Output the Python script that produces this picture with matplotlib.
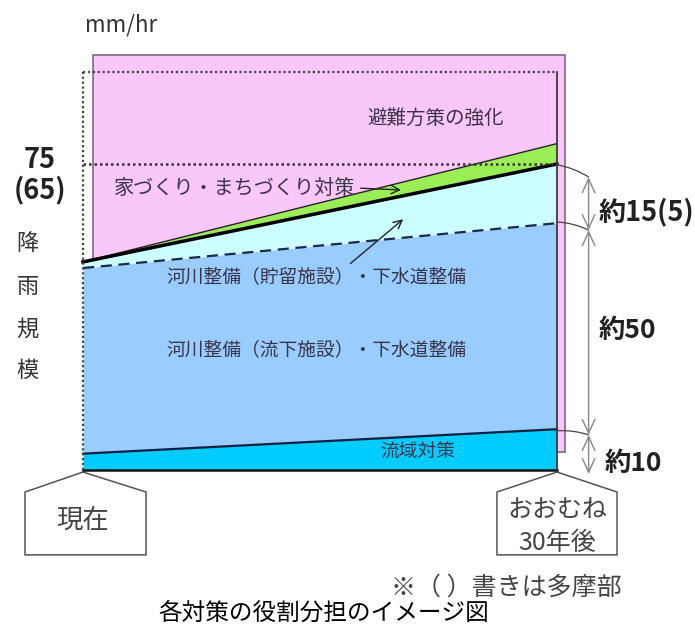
import numpy as np
import matplotlib
matplotlib.use("Agg")
from matplotlib import pyplot as plt
from matplotlib.patches import Rectangle, Polygon

plt.rcParams['font.family'] = ['Noto Sans CJK JP', 'DejaVu Sans']

# x: years from now (0 = 現在, 30 = おおむね30年後), y: rainfall scale (mm/hr)
years = [0, 30]
basin_top = [4, 10]          # 流域対策
flow_top = [49.5, 60.5]      # 河川整備（流下施設）・下水道整備 (dashed line)
storage_top = [51, 75]       # 河川整備（貯留施設）・下水道整備 (solid line)
town_top = [51, 80]          # 家づくり・まちづくり対策
frame_top = 97.5             # top of drawing (dotted)
target = 75                  # 75 (65)
dim_levels = [-1.0, 8.6, 58.8, 71.8]
dim_labels = ["約10", "約50", "約15(5)"]

c_pink = "#FAC8F8"
c_basin = "#00CCFF"
c_flow = "#99CCFF"
c_store = "#CCFFFF"
c_town = "#99EE55"
c_txt = "#3A3448"

fig = plt.figure(figsize=(6.95, 6.27), dpi=100)
ax = fig.add_axes([0, 0, 1, 1])
# 15.8 px per year, 4.08 px per mm/hr, origin at pixel (83, 470)
ax.set_xlim(-83 / 15.8, (695 - 83) / 15.8)
ax.set_ylim(-(627 - 470) / 4.08, 470 / 4.08)
ax.axis("off")

# pink background box (避難方策の強化)
ax.add_patch(Rectangle((0.63, 4.4), 29.87, 97.3, facecolor=c_pink,
                       edgecolor="#7A6A80", lw=1.2, zorder=1))

x = np.array(years)
ax.fill_between(x, 0, basin_top, color=c_basin, lw=0, zorder=2)
ax.fill_between(x, basin_top, flow_top, color=c_flow, lw=0, zorder=2)
ax.fill_between(x, flow_top, storage_top, color=c_store, lw=0, zorder=2)
ax.fill_between(x, storage_top, town_top, color=c_town, lw=0, zorder=2)

ax.plot(x, town_top, color="#222222", lw=1.0, zorder=3)
ax.plot(x, storage_top, color="black", lw=2.5, zorder=3)
ax.plot(x, flow_top, color="#1A2A4A", lw=1.6, ls=(0, (5, 3)), zorder=3)
ax.plot(x, basin_top, color="#102040", lw=1.6, zorder=3)
ax.plot(x, [0, 0], color="#111111", lw=1.8, zorder=3)

# frame: dotted left / top / 75 lines, solid right edge
dot = (0, (1, 1.2))
ax.plot([0, 0], [0, frame_top], color="#444444", lw=1.6, ls=dot, zorder=3)
ax.plot([0, 30], [frame_top, frame_top], color="#444444", lw=1.6, ls=dot, zorder=3)
ax.plot([0, 30], [target, target], color="#333333", lw=1.8, ls=dot, zorder=3)
ax.plot([30, 30], [0, frame_top], color="#3A3A3A", lw=1.3, zorder=3)

# region labels
ax.text(22.3, 86.3, "避難方策の強化", fontsize=14, color=c_txt, ha="center", va="center", zorder=4)
ax.text(9.6, 69.1, "家づくり・まちづくり対策", fontsize=14.5, color=c_txt, ha="center", va="center", zorder=4)
ax.annotate("", xy=(20.3, 68.6), xytext=(17.4, 69.1),
            arrowprops=dict(arrowstyle="->,head_length=0.6,head_width=0.3", color="#222222", lw=1.0), zorder=4)
ax.text(14.8, 47.3, "河川整備（貯留施設）・下水道整備", fontsize=13.5, color=c_txt, ha="center", va="center", zorder=4)
ax.annotate("", xy=(20.4, 61.9), xytext=(16.8, 50.2),
            arrowprops=dict(arrowstyle="->,head_length=0.6,head_width=0.3", color="#222222", lw=1.0), zorder=4)
ax.text(14.8, 29.4, "河川整備（流下施設）・下水道整備", fontsize=13.5, color=c_txt, ha="center", va="center", zorder=4)
ax.text(21.2, 4.4, "流域対策", fontsize=13.5, color=c_txt, ha="center", va="center", zorder=4)

# y axis labels
ax.text(2.4, 109.1, "mm/hr", fontsize=16, color="#333333", ha="center", va="center")
ax.text(-2.75, 76.0, "75", fontsize=19.5, fontweight="bold", color="#222222", ha="center", va="center")
ax.text(-2.75, 68.6, "(65)", fontsize=19.5, fontweight="bold", color="#222222", ha="center", va="center")
for ch, yy in zip("降雨規模", [55.6, 44.9, 34.6, 24.5]):
    ax.text(-3.5, yy, ch, fontsize=16, color="#333333", ha="center", va="center")

# houses
for cx, left, right in [(0, -3.67, 3.99), (30, 26.2, 33.8)]:
    ax.add_patch(Polygon([(cx, -0.5), (right, -5.4), (right, -20.8), (left, -20.8), (left, -5.4)],
                         closed=True, facecolor="white", edgecolor="#555555", lw=1.1, zorder=2))
ax.text(0, -12.3, "現在", fontsize=19, color="#444444", ha="center", va="center", zorder=4)
ax.text(30, -9.8, "おおむね", fontsize=18, color="#444444", ha="center", va="center", zorder=4)
ax.text(30, -17.9, "30年後", fontsize=18, color="#444444", ha="center", va="center", zorder=4)

# dimension arrows on the right
xd = 32.0
for (y0, y1), lab in zip(zip(dim_levels[:-1], dim_levels[1:]), dim_labels):
    ax.annotate("", xy=(xd, y0), xytext=(xd, y1),
                arrowprops=dict(arrowstyle="<->,head_length=1.0,head_width=0.45",
                                color="#888888", lw=1.0, shrinkA=0, shrinkB=0))
for ys, yd in [(74.8, 71.8), (60.8, 58.8), (9.6, 8.6)]:
    ax.annotate("", xy=(xd, yd), xytext=(30, ys),
                arrowprops=dict(arrowstyle="-", color="#444444", lw=0.9,
                                connectionstyle="arc3,rad=-0.1", shrinkA=0, shrinkB=0))
ax.text(32.6, 63.2, dim_labels[2], fontsize=19.5, fontweight="bold", color="#222222", ha="left", va="center")
ax.text(32.6, 34.3, dim_labels[1], fontsize=19, fontweight="bold", color="#222222", ha="left", va="center")
ax.text(33.0, 1.7, dim_labels[0], fontsize=19, fontweight="bold", color="#222222", ha="left", va="center")

ax.text(26.8, -28.7, "※（ ）書きは多摩部", fontsize=18, color="#444444", ha="center", va="center")
ax.text(15.25, -35.0, "各対策の役割分担のイメージ図", fontsize=17, color="black", ha="center", va="center")

fig.savefig("out.png", dpi=100)
